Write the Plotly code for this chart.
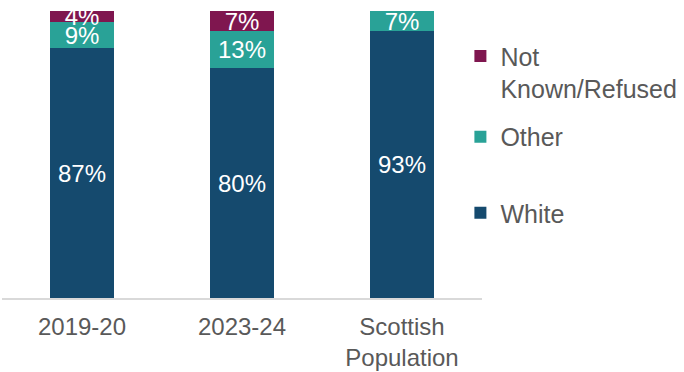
import plotly.graph_objects as go

# Ethnicity breakdown (% of each group)
categories = ["2019-20", "2023-24", "Scottish<br>Population"]
white = [87, 80, 93]
other = [9, 13, 7]
not_known = [4, 7, 0]

series = [
    ("White", white, "#154A6E", "legend3"),
    ("Other", other, "#29A297", "legend2"),
    ("Not<br>Known/Refused", not_known, "#7F164F", "legend"),
]

FONT = "Liberation Sans, Arial, sans-serif"
GREY = "#595959"

fig = go.Figure()
for name, vals, color, leg in series:
    fig.add_trace(go.Bar(
        x=categories,
        y=vals,
        name=name,
        marker=dict(color=color, line=dict(width=0)),
        text=[f"{v}%" if v else "" for v in vals],
        textposition="inside",
        insidetextanchor="middle",
        textangle=0,
        textfont=dict(family=FONT, size=24, color="white"),
        legend=leg,
        showlegend=True,
        hoverinfo="skip",
    ))

legend_common = dict(
    x=0.955,
    xanchor="left",
    yanchor="middle",
    bgcolor="rgba(0,0,0,0)",
    borderwidth=0,
    valign="top",
    font=dict(family=FONT, size=25, color=GREY),
)

fig.update_layout(
    width=684,
    height=372,
    barmode="stack",
    bargap=0.6,
    showlegend=True,
    margin=dict(l=2, r=200, t=11, b=74),
    paper_bgcolor="white",
    plot_bgcolor="white",
    uniformtext=dict(minsize=24, mode="show"),
    legend=dict(y=0.787, **legend_common),
    legend2=dict(y=0.561, **legend_common),
    legend3=dict(y=0.296, **legend_common),
    xaxis=dict(
        showline=True,
        linecolor="#D9D9D9",
        linewidth=2,
        showgrid=False,
        ticks="outside",
        ticklen=6,
        tickcolor="white",
        tickfont=dict(family=FONT, size=24, color=GREY),
    ),
    yaxis=dict(
        range=[0, 100],
        visible=False,
        showgrid=False,
        zeroline=False,
    ),
)

fig.write_html("out.html")
